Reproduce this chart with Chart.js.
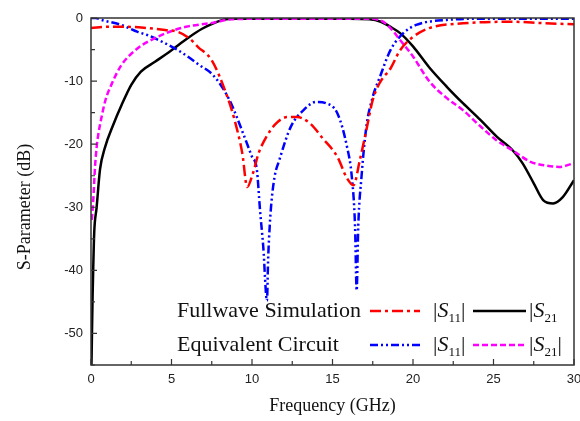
<!DOCTYPE html>
<html>
<head>
<meta charset="utf-8">
<script src="https://cdn.jsdelivr.net/npm/chart.js@4.4.1/dist/chart.umd.min.js"></script>
<style>
  html, body { margin: 0; padding: 0; background: #fff; }
  #wrap { width: 580px; height: 421px; }
</style>
</head>
<body>
<div id="wrap"><canvas id="chart" width="580" height="421"></canvas></div>
<script>
// tick values
const xTicks = [0, 5, 10, 15, 20, 25, 30];
const yTicks = [0, -10, -20, -30, -40, -50];

// Fullwave simulation |S11| (red)
const fwS11Freq = [0, 1.06, 2.3, 3.5, 4.6, 5.4, 6.1, 6.65, 7.5, 8.4, 8.9, 9.4, 9.7, 10.06, 10.4, 10.9, 11.5, 12.2, 12.8, 13.6, 14.4, 15.3, 15.9, 16.3, 16.7, 17.1, 17.5, 17.95, 18.6, 19.2, 20, 21, 23.1, 26.2, 28, 30];
const fwS11 = [-1.6, -1.4, -1.4, -1.6, -1.9, -2.2, -3.2, -4.6, -6.7, -12, -16, -21.5, -26.8, -24.6, -21.5, -18.8, -16.7, -15.7, -15.7, -16.7, -19.1, -22, -25.4, -26.5, -22.5, -17.8, -13, -10.2, -8, -5.1, -3, -1.6, -0.85, -0.6, -0.8, -1];

// Fullwave simulation |S21| (black)
const fwS21Freq = [0.03, 0.06, 0.1, 0.14, 0.2, 0.35, 0.56, 0.87, 1.37, 1.9, 2.5, 3.1, 4.0, 5.0, 6.0, 6.9, 7.6, 8.2, 8.8, 12, 16, 17.3, 18, 18.6, 19.2, 20, 21, 22.1, 23.1, 24.2, 25.2, 26.2, 26.8, 27.5, 28.1, 28.7, 29.3, 30];
const fwS21 = [-55, -50, -44, -39.5, -34, -30, -24, -20.5, -17, -13.8, -10.6, -8.5, -6.9, -5.1, -3.2, -1.7, -0.85, -0.3, -0.1, -0.1, -0.1, -0.2, -0.6, -1.4, -2.4, -4.5, -7.8, -10.9, -13.5, -16.2, -18.8, -21, -23, -26.2, -28.9, -29.4, -28.4, -25.7];

// Equivalent circuit |S11| (blue)
const ecS11Freq = [0, 0.3, 0.64, 1.88, 2.9, 3.5, 4.6, 5.4, 6.0, 6.7, 7.6, 8.6, 9.45, 10, 10.3, 10.5, 10.7, 10.93, 11.0, 11.1, 11.2, 11.4, 11.7, 12.4, 13.2, 14, 14.6, 15.3, 15.9, 16.2, 16.4, 16.5, 16.6, 16.8, 17.1, 17.5, 17.95, 18.6, 19.4, 20.2, 22.1, 25, 30];
const ecS11 = [0, 0, -0.3, -1.1, -2.2, -2.7, -4, -5.1, -6.1, -7.4, -9.1, -13, -18.3, -22, -24, -30.5, -36.3, -44.8, -38.4, -33, -29.4, -25.2, -22.5, -17.3, -14.6, -13.3, -13.5, -15.1, -20.4, -25.2, -33, -43.2, -33, -25.2, -17.3, -12.5, -9.3, -5.1, -2.4, -1.1, -0.3, -0.1, -0.1];

// Equivalent circuit |S21| (magenta)
const ecS21Freq = [0.05, 0.14, 0.25, 0.35, 0.45, 0.64, 0.9, 1.26, 1.88, 2.9, 3.96, 5.2, 5.9, 7.6, 8.7, 12, 17, 18, 18.6, 19.2, 20, 21, 22.1, 23.1, 24.2, 25.2, 26.2, 27.3, 28.3, 29.1, 30];
const ecS21 = [-32, -28.9, -23.6, -20.5, -18.5, -15.9, -13, -10.6, -7.5, -4.8, -3.2, -1.9, -1.4, -0.75, -0.2, -0.1, -0.1, -0.4, -1.6, -3.5, -6.1, -10, -12.7, -14.6, -17.2, -19.4, -21, -22.8, -23.4, -23.6, -23];

function pts(fs, vs) {
    return fs.map(function (f, i) { return { x: f, y: vs[i] }; });
}

const styles = {
    fwS11: { color: '#ff0000', dash: [11, 4, 3, 4] },
    fwS21: { color: '#000000', dash: [] },
    ecS11: { color: '#0000ff', dash: [8, 3, 2, 3, 2, 3] },
    ecS21: { color: '#ff00ff', dash: [6, 3] }
};

// frame, inward ticks, y title and the two-row legend
const decor = {
    id: 'decor',
    afterDraw: function (chart) {
        const ctx = chart.ctx;
        const a = chart.chartArea;
        const xs = chart.scales.x, ys = chart.scales.y;
        ctx.save();
        ctx.strokeStyle = '#333';
        ctx.lineWidth = 1.5;
        ctx.strokeRect(a.left, a.top, a.right - a.left, a.bottom - a.top);
        ctx.lineWidth = 1.2;
        ctx.beginPath();
        for (let v = 0; v <= 30; v += 2.5) {
            const px = xs.getPixelForValue(v);
            const len = (v % 5 === 0) ? 6 : 4;
            ctx.moveTo(px, a.bottom); ctx.lineTo(px, a.bottom - len);
        }
        for (let v = 0; v >= -55; v -= 5) {
            const py = ys.getPixelForValue(v);
            const len = (v % 10 === 0) ? 6 : 4;
            ctx.moveTo(a.left, py); ctx.lineTo(a.left + len, py);
        }
        ctx.stroke();

        // y axis title
        ctx.fillStyle = '#111';
        ctx.font = '18px "Liberation Serif"';
        ctx.textAlign = 'center';
        ctx.textBaseline = 'middle';
        ctx.translate(25, 207);
        ctx.rotate(-Math.PI / 2);
        ctx.fillText('S-Parameter (dB)', 0, 0);
        ctx.restore();

        // legend
        ctx.save();
        const rows = [
            { label: 'Fullwave Simulation', y: a.bottom - 54, s1: styles.fwS11, s2: styles.fwS21, close: false },
            { label: 'Equivalent Circuit', y: a.bottom - 20, s1: styles.ecS11, s2: styles.ecS21, close: true }
        ];
        rows.forEach(function (r) {
            ctx.fillStyle = '#111';
            ctx.font = '22px "Liberation Serif"';
            ctx.textBaseline = 'middle';
            ctx.textAlign = 'left';
            ctx.fillText(r.label, 177, r.y);
            drawSample(ctx, 370, 420, r.y, r.s1);
            drawSub(ctx, 433, r.y, '11', true);
            drawSample(ctx, 473, 526, r.y, r.s2);
            drawSub(ctx, 529, r.y, '21', r.close);
        });
        ctx.restore();
    }
};

function drawSample(ctx, x1, x2, y, st) {
    ctx.save();
    ctx.strokeStyle = st.color;
    ctx.lineWidth = 2.5;
    ctx.setLineDash(st.dash);
    ctx.beginPath();
    ctx.moveTo(x1, y); ctx.lineTo(x2, y);
    ctx.stroke();
    ctx.restore();
}

function drawSub(ctx, x, y, sub, close) {
    ctx.save();
    ctx.fillStyle = '#111';
    ctx.textBaseline = 'middle';
    ctx.textAlign = 'left';
    ctx.font = '22px "Liberation Serif"';
    ctx.fillText('|', x, y);
    x += ctx.measureText('|').width;
    ctx.font = 'italic 22px "Liberation Serif"';
    ctx.fillText('S', x, y);
    x += ctx.measureText('S').width;
    ctx.font = '13px "Liberation Serif"';
    ctx.fillText(sub, x, y + 8);
    x += ctx.measureText(sub).width;
    if (close) {
        ctx.font = '22px "Liberation Serif"';
        ctx.fillText('|', x, y);
    }
    ctx.restore();
}

function makeSet(data, st) {
    return {
        data: data,
        borderColor: st.color,
        borderDash: st.dash,
        borderWidth: 2.5,
        pointRadius: 0,
        fill: false,
        cubicInterpolationMode: 'monotone'
    };
}

new Chart(document.getElementById('chart'), {
    type: 'line',
    data: {
        datasets: [
            makeSet(pts(fwS11Freq, fwS11), styles.fwS11),
            makeSet(pts(ecS21Freq, ecS21), styles.ecS21),
            makeSet(pts(ecS11Freq, ecS11), styles.ecS11),
            makeSet(pts(fwS21Freq, fwS21), styles.fwS21)
        ]
    },
    options: {
        responsive: false,
        animation: false,
        layout: { autoPadding: false, padding: { top: 18, right: 6, left: 0, bottom: 0 } },
        plugins: { legend: { display: false }, tooltip: { enabled: false } },
        scales: {
            x: {
                type: 'linear',
                min: 0, max: 30,
                afterBuildTicks: function (s) { s.ticks = xTicks.map(function (v) { return { value: v }; }); },
                afterFit: function (s) { s.height = 56; s.paddingLeft = 0; s.paddingRight = 0; },
                grid: { display: false, drawTicks: false },
                border: { display: false },
                ticks: { padding: 7, color: '#222', font: { family: 'Liberation Sans', size: 13 }, maxRotation: 0 },
                title: { display: true, text: 'Frequency (GHz)', color: '#111', padding: { top: 8 }, font: { family: 'Liberation Serif', size: 18 } }
            },
            y: {
                min: -55, max: 0,
                afterBuildTicks: function (s) { s.ticks = yTicks.map(function (v) { return { value: v }; }); },
                afterFit: function (s) { s.width = 91; s.paddingTop = 0; s.paddingBottom = 0; },
                grid: { display: false, drawTicks: false },
                border: { display: false },
                ticks: { padding: 8, color: '#222', font: { family: 'Liberation Sans', size: 13 } }
            }
        }
    },
    plugins: [decor]
});
</script>
</body>
</html>
